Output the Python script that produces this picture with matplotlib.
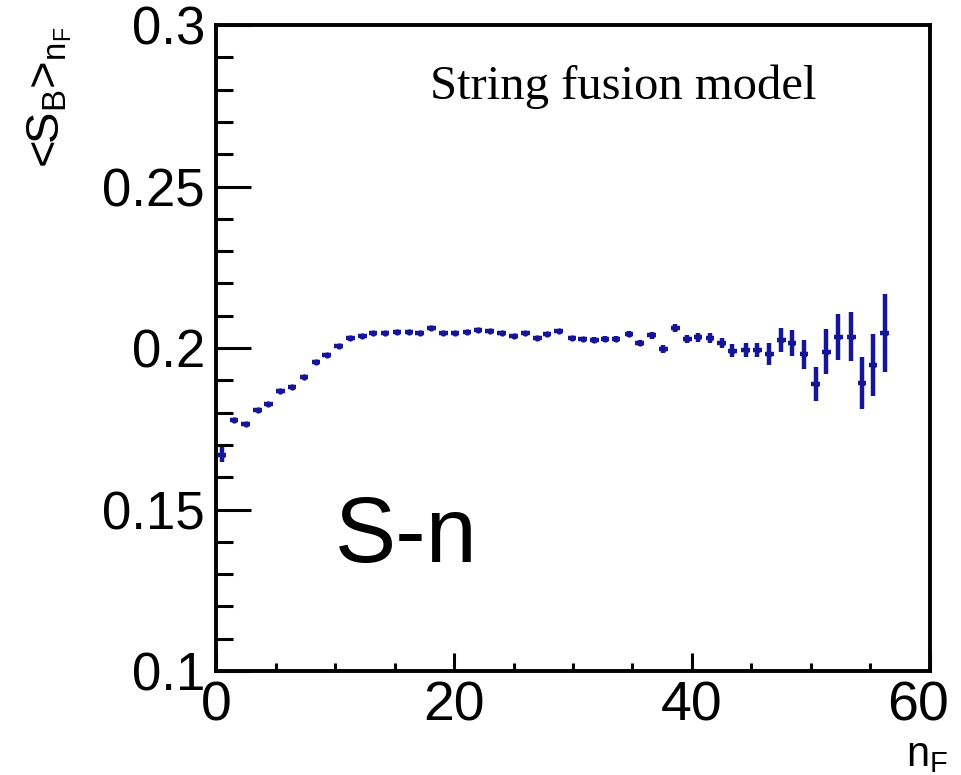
import numpy as np
import matplotlib
matplotlib.use("Agg")
import matplotlib.pyplot as plt
import matplotlib.transforms as mtransforms
from matplotlib.ticker import MultipleLocator, FixedLocator, FixedFormatter

plt.rcParams["font.family"] = "Liberation Sans"
plt.rcParams["mathtext.fontset"] = "custom"
plt.rcParams["mathtext.rm"] = "Liberation Sans"
plt.rcParams["mathtext.default"] = "regular"

# values
nF = [0.5, 1.5, 2.5, 3.5, 4.4, 5.4, 6.4, 7.4, 8.4, 9.3,
      10.3, 11.3, 12.3, 13.2, 14.2, 15.2, 16.2, 17.1, 18.1, 19.1,
      20.1, 21.1, 22.0, 23.0, 24.0, 25.0, 26.0, 27.0, 27.8, 28.8,
      29.9, 30.8, 31.8, 32.7, 33.6, 34.7, 35.6, 36.6, 37.6, 38.6,
      39.6, 40.5, 41.5, 42.5, 43.4, 44.5, 45.5, 46.5, 47.5, 48.4,
      49.4, 50.4, 51.3, 52.3, 53.4, 54.3, 55.2, 56.2]
SB = [0.1669, 0.1777, 0.1765, 0.1808, 0.1827, 0.1867, 0.1880, 0.1910, 0.1957, 0.1978,
      0.2006, 0.2031, 0.2037, 0.2046, 0.2046, 0.2050, 0.2050, 0.2046, 0.2062, 0.2046,
      0.2046, 0.2050, 0.2056, 0.2053, 0.2046, 0.2037, 0.2046, 0.2031, 0.2043, 0.2053,
      0.2031, 0.2028, 0.2025, 0.2028, 0.2028, 0.2043, 0.2016, 0.2040, 0.1997, 0.2062,
      0.2028, 0.2034, 0.2030, 0.2016, 0.1992, 0.1994, 0.1994, 0.1981, 0.2025, 0.2016,
      0.1981, 0.1889, 0.1988, 0.2034, 0.2035, 0.1892, 0.1947, 0.2046]
SB_err = [0.0023, 0.0006, 0.0005, 0.0005, 0.0005, 0.0005, 0.0005, 0.0005, 0.0005, 0.0005,
          0.0005, 0.0005, 0.0005, 0.0005, 0.0005, 0.0005, 0.0005, 0.0005, 0.0005, 0.0005,
          0.0005, 0.0005, 0.0005, 0.0005, 0.0005, 0.0005, 0.0005, 0.0006, 0.0006, 0.0006,
          0.0007, 0.0007, 0.0008, 0.0008, 0.0009, 0.0009, 0.0010, 0.0011, 0.0012, 0.0012,
          0.0013, 0.0014, 0.0015, 0.0016, 0.0020, 0.0021, 0.0022, 0.0034, 0.0037, 0.0040,
          0.0045, 0.0053, 0.0070, 0.0070, 0.0075, 0.0080, 0.0097, 0.0120]

yticks = [0.1, 0.15, 0.2, 0.25, 0.3]
ylabs = ["0.1", "0.15", "0.2", "0.25", "0.3"]
xticks = [0, 20, 40, 60]

BLUE = "#15159a"

fig = plt.figure(figsize=(9.61, 7.75), dpi=100)
ax = fig.add_axes([0.2248, 0.1342, 0.9677 - 0.2248, 0.9677 - 0.1342])

ax.errorbar(nF, SB, yerr=SB_err, xerr=0.36, fmt="o", color=BLUE, ms=4.5,
            elinewidth=3.2, capsize=0, mew=0)

ax.set_xlim(0, 60)
ax.set_ylim(0.1, 0.3)

for sp in ax.spines.values():
    sp.set_linewidth(2.8)

ax.yaxis.set_major_locator(FixedLocator(yticks))
ax.yaxis.set_major_formatter(FixedFormatter(ylabs))
ax.yaxis.set_minor_locator(MultipleLocator(0.01))
ax.xaxis.set_major_locator(FixedLocator(xticks))
ax.xaxis.set_minor_locator(MultipleLocator(5))

ax.tick_params(axis="y", which="major", direction="in", length=25, width=2.2,
               labelsize=38, pad=8)
ax.tick_params(axis="y", which="minor", direction="in", length=12, width=2.2)
ax.tick_params(axis="x", which="major", direction="in", length=13, width=2.2,
               labelsize=40, pad=7)
ax.tick_params(axis="x", which="minor", direction="in", length=6, width=2.2)

# last x label sits a bit left of its tick, as in the original
lab60 = ax.get_xticklabels()[-1]
lab60.set_transform(lab60.get_transform() +
                    mtransforms.ScaledTranslation(-12 / 100, 0, fig.dpi_scale_trans))

ax.text(0.2997, 0.885, "String fusion model", transform=ax.transAxes,
        family="Liberation Serif", fontsize=35, ha="left", va="baseline")
ax.text(0.1667, 0.1687, "S-n", transform=ax.transAxes,
        fontsize=66, ha="left", va="baseline")

fig.text(0.052, 0.965, r"<S$_{B}$>$_{n_{F}}$", rotation=90, fontsize=34,
         ha="center", va="top")
fig.text(0.987, 0.0, r"n$_{F}$", fontsize=30, ha="right", va="bottom")

fig.savefig("out.png", dpi=100)
